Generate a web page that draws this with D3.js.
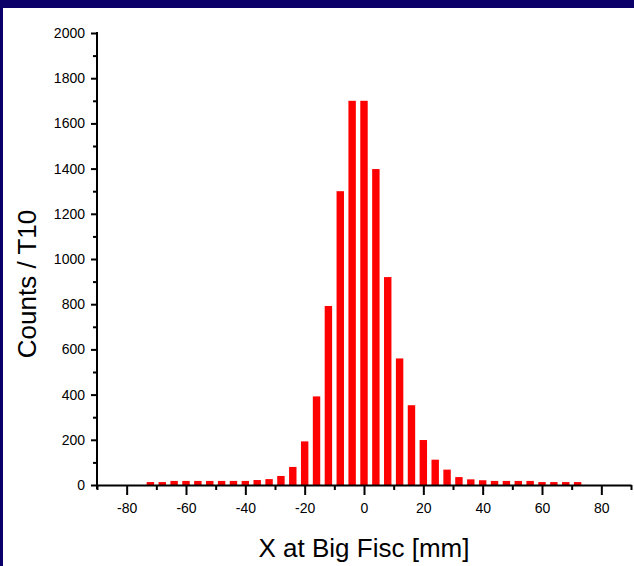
<!DOCTYPE html>
<html>
<head>
<meta charset="utf-8">
<script src="https://cdn.jsdelivr.net/npm/d3@7"></script>
<style>
  body { margin: 0; background: #fff; }
  svg { display: block; font-family: "Liberation Sans", Arial, sans-serif; }
</style>
</head>
<body>
<svg id="chart" width="634" height="566"></svg>
<script>
// bin centres [mm] and counts
const bin_centers = [-72, -68, -64, -60, -56, -52, -48, -44, -40, -36, -32, -28, -24,
  -20, -16, -12, -8, -4, 0, 4, 8, 12, 16, 20,
  24, 28, 32, 36, 40, 44, 48, 52, 56, 60, 64, 68, 72]
const counts = [13, 13, 18, 18, 18, 18, 18, 18, 18, 22, 26, 40, 80,
  193, 392, 792, 1300, 1700, 1700, 1398, 920, 560, 353, 199,
  112, 68, 35, 25, 21, 18, 18, 18, 18, 13, 13, 13, 13]
const x_major = [-80, -60, -40, -20, 0, 20, 40, 60, 80]
const x_minor = [-90, -70, -50, -30, -10, 10, 30, 50, 70, 90]
const y_major = [0, 200, 400, 600, 800, 1000, 1200, 1400, 1600, 1800, 2000]
const y_minor = [100, 300, 500, 700, 900, 1100, 1300, 1500, 1700, 1900]

const svg = d3.select('#chart')

// frame: navy band on top and left
svg.append('rect').attr('width', 634).attr('height', 566).style('fill', '#0b006a')
svg.append('rect').attr('x', 3).attr('y', 8).attr('width', 631).attr('height', 558).style('fill', '#fff')

const x = d3.scaleLinear().domain([-90, 90]).range([97, 631])
const y = d3.scaleLinear().domain([0, 2000]).range([485, 33])
const bin_w = 2.5
const plain = (d) => String(d)

// bars
svg.append('g')
  .selectAll('rect')
  .data(bin_centers)
  .join('rect')
  .attr('x', (d) => x(d - bin_w / 2))
  .attr('width', x(bin_w) - x(0))
  .attr('y', (d, i) => y(counts[i]))
  .attr('height', (d, i) => y(0) - y(counts[i]))
  .style('fill', '#ff0000')

// x axis
const gx = svg.append('g').attr('transform', `translate(0,${y(0)})`)
gx.call(d3.axisBottom(x).tickValues(x_major).tickFormat(plain).tickSize(10).tickSizeOuter(0).tickPadding(8))
gx.append('g').call(d3.axisBottom(x).tickValues(x_minor).tickSize(5).tickFormat(''))
  .select('.domain').remove()

// y axis
const gy = svg.append('g').attr('transform', `translate(${x(-90)},0)`)
gy.call(d3.axisLeft(y).tickValues(y_major).tickFormat(plain).tickSize(6).tickSizeOuter(0).tickPadding(6))
gy.select('.domain').remove()
gy.append('g').call(d3.axisLeft(y).tickValues(y_minor).tickSize(4).tickFormat(''))
  .select('.domain').remove()
gy.append('line').attr('y1', y(2000) - 1).attr('y2', y(0) + 4)

svg.selectAll('.domain, .tick line, g > line').style('stroke', '#000').style('stroke-width', 2)
svg.selectAll('.tick text').style('font-size', '14px').style('fill', '#000')

// axis titles
svg.append('text')
  .attr('x', x(0))
  .attr('y', 557)
  .attr('text-anchor', 'middle')
  .style('font-size', '26px')
  .text('X at Big Fisc [mm]')

svg.append('text')
  .attr('transform', `translate(36,${(y(0) + y(2000)) / 2 + 25}) rotate(-90)`)
  .attr('text-anchor', 'middle')
  .style('font-size', '26px')
  .text('Counts / T10')
</script>
</body>
</html>
